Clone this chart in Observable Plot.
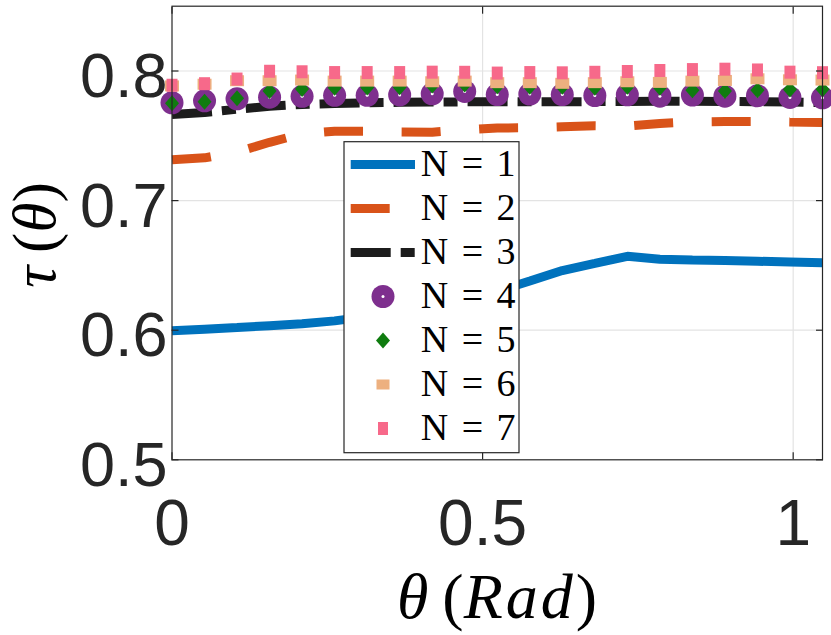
<!DOCTYPE html>
<html>
<head>
<meta charset="utf-8">
<script src="https://cdn.jsdelivr.net/npm/d3@7"></script>
<script src="https://cdn.jsdelivr.net/npm/@observablehq/plot@0.6"></script>
<style>
  html, body { margin: 0; padding: 0; background: #ffffff; }
  #chart { width: 831px; height: 635px; }
</style>
</head>
<body>
<div id="chart"></div>
<script>
// θ (rad) sample positions
const theta = [0, 0.0524, 0.1047, 0.1571, 0.2094, 0.2618, 0.3142, 0.3665, 0.4189, 0.4712,
  0.5236, 0.5760, 0.6283, 0.6807, 0.7330, 0.7854, 0.8378, 0.8901, 0.9425, 0.9948, 1.0472];

// τ(θ) for each N
const tauN1 = [0.5995, 0.6008, 0.6020, 0.6035, 0.6050, 0.6072, 0.6105, 0.6145, 0.6190, 0.6240,
  0.6300, 0.6380, 0.6460, 0.6515, 0.6570, 0.6548, 0.6542, 0.6537, 0.6532, 0.6527, 0.6520];
const tauN2 = [0.7315, 0.7330, 0.7375, 0.7450, 0.7515, 0.7535, 0.7535, 0.7530, 0.7528, 0.7545,
  0.7560, 0.7562, 0.7570, 0.7578, 0.7575, 0.7595, 0.7608, 0.7610, 0.7610, 0.7606, 0.7603];
const tauN3 = [0.7665, 0.7680, 0.7705, 0.7728, 0.7742, 0.7750, 0.7755, 0.7758, 0.7760, 0.7762,
  0.7763, 0.7763, 0.7763, 0.7764, 0.7765, 0.7766, 0.7766, 0.7765, 0.7763, 0.7760, 0.7756];
const tauN4 = [0.7755, 0.7770, 0.7785, 0.7798, 0.7805, 0.7812, 0.7812, 0.7815, 0.7824, 0.7842,
  0.7818, 0.7822, 0.7818, 0.7811, 0.7816, 0.7806, 0.7814, 0.7806, 0.7809, 0.7796, 0.7793];
const tauN5 = [0.7752, 0.7762, 0.7790, 0.7845, 0.7862, 0.7870, 0.7872, 0.7875, 0.7889, 0.7896,
  0.7883, 0.7878, 0.7878, 0.7870, 0.7878, 0.7870, 0.7852, 0.7846, 0.7852, 0.7857, 0.7860];
const tauN6 = [0.7885, 0.7898, 0.7925, 0.7925, 0.7930, 0.7922, 0.7922, 0.7922, 0.7917, 0.7922,
  0.7910, 0.7910, 0.7905, 0.7910, 0.7917, 0.7912, 0.7922, 0.7927, 0.7940, 0.7932, 0.7930];
const tauN7 = [0.7890, 0.7902, 0.7938, 0.7998, 0.7994, 0.7988, 0.7988, 0.7988, 0.7991, 0.7990,
  0.7984, 0.7988, 0.7986, 0.7990, 0.7996, 0.8004, 0.8011, 0.8014, 0.8008, 0.7991, 0.7987];

const seriesNames = ["N = 1", "N = 2", "N = 3", "N = 4", "N = 5", "N = 6", "N = 7"];
const xTicks = [0, 0.5, 1];
const yTicks = [0.5, 0.6, 0.7, 0.8];
const xGrid = [0.5, 1];
const yGrid = [0.6, 0.7, 0.8];

const colors = {
  n1: "#0072BD", n2: "#D95319", n3: "#1c1c1c", n4: "#7E2F8E",
  n5: "#0f7c0f", n6: "#EDB07F", n7: "#F7698A"
};
const dashN2 = "39,38.6";
const dashN3 = "40,10,14,10";

const mk = ys => theta.map((t, i) => ({theta: t, tau: ys[i]}));

const diamondSym = {draw(ctx) { ctx.moveTo(0, -8); ctx.lineTo(7, 0); ctx.lineTo(0, 8); ctx.lineTo(-7, 0); ctx.closePath(); }};
const peachSym = {draw(ctx) { ctx.rect(-7, -5.5, 14, 11); }};
const pinkSym = {draw(ctx) { ctx.rect(-5.5, -6.5, 11, 13); }};

const sansFont = "'Liberation Sans', Arial, Helvetica, sans-serif";
const serifFont = "'Liberation Serif', 'Times New Roman', serif";

const chart = Plot.plot({
  width: 831,
  height: 635,
  marginLeft: 171.5,
  marginRight: 9,
  marginTop: 5.7,
  marginBottom: 175.7,
  x: {domain: [0, Math.PI / 3]},
  y: {domain: [0.5, 0.85]},
  style: {background: "#ffffff", color: "#262626", fontFamily: sansFont},
  marks: [
    Plot.gridX(xGrid, {stroke: "#e3e3e3", strokeOpacity: 1, strokeWidth: 1.2}),
    Plot.gridY(yGrid, {stroke: "#e3e3e3", strokeOpacity: 1, strokeWidth: 1.2}),
    Plot.line(mk(tauN1), {x: "theta", y: "tau", stroke: colors.n1, strokeWidth: 9, strokeLinecap: "butt", strokeLinejoin: "miter"}),
    Plot.line(mk(tauN2), {x: "theta", y: "tau", stroke: colors.n2, strokeWidth: 9, strokeLinecap: "butt", strokeLinejoin: "miter", strokeDasharray: dashN2}),
    Plot.line(mk(tauN3), {x: "theta", y: "tau", stroke: colors.n3, strokeWidth: 9, strokeLinecap: "butt", strokeLinejoin: "miter", strokeDasharray: dashN3}),
    Plot.dot(mk(tauN4), {x: "theta", y: "tau", r: 11.5, fill: colors.n4, stroke: "none"}),
    Plot.dot(mk(tauN4), {x: "theta", y: "tau", r: 1.5, fill: "#ffffff", stroke: "none"}),
    Plot.dot(mk(tauN5), {x: "theta", y: "tau", symbol: diamondSym, r: 7, fill: colors.n5, stroke: "none"}),
    Plot.dot(mk(tauN6), {x: "theta", y: "tau", symbol: peachSym, r: 7, fill: colors.n6, stroke: "none"}),
    Plot.dot(mk(tauN7), {x: "theta", y: "tau", symbol: pinkSym, r: 7, fill: colors.n7, stroke: "none"}),
    Plot.frame({stroke: "#262626", strokeWidth: 1.2}),
    // inward tick marks on all four sides
    Plot.axisY({ticks: yTicks, anchor: "left", tickSize: -7, tickFormat: () => "", label: null, strokeWidth: 1.2}),
    Plot.axisY({ticks: yTicks, anchor: "right", tickSize: -7, tickFormat: () => "", label: null, strokeWidth: 1.2}),
    Plot.axisX({ticks: xTicks, anchor: "bottom", tickSize: -7, tickFormat: () => "", label: null, strokeWidth: 1.2}),
    Plot.axisX({ticks: xTicks, anchor: "top", tickSize: -7, tickFormat: () => "", label: null, strokeWidth: 1.2}),
    // tick labels
    Plot.axisY({ticks: yTicks, anchor: "left", tickSize: 0, tickPadding: 4.5, fontSize: 63, dy: 6, label: null, tickFormat: d => d.toFixed(1)}),
    Plot.axisX({ticks: xTicks, anchor: "bottom", tickSize: 0, tickPadding: 40, fontSize: 64, label: null, tickFormat: d => String(d)})
  ]
});

document.getElementById("chart").appendChild(chart);

const svg = d3.select(chart);

// Axis titles (LaTeX-like)
const xl = svg.append("text")
  .attr("x", 497).attr("y", 618)
  .attr("text-anchor", "middle")
  .attr("font-family", serifFont)
  .attr("font-size", 64)
  .attr("fill", "#000");
xl.append("tspan").attr("font-style", "italic").text("θ");
xl.append("tspan").attr("dx", 14).text("(");
xl.append("tspan").attr("font-style", "italic").attr("letter-spacing", 3).text("Rad");
xl.append("tspan").text(")");

const yl = svg.append("text")
  .attr("transform", "translate(55,235) rotate(-90)")
  .attr("text-anchor", "middle")
  .attr("font-family", serifFont)
  .attr("font-size", 61)
  .attr("fill", "#000");
yl.append("tspan").attr("font-style", "italic").text("τ");
yl.append("tspan").attr("dx", 13).text("(");
yl.append("tspan").attr("font-style", "italic").text("θ");
yl.append("tspan").text(")");

// Legend
const lg = svg.append("g").attr("text-anchor", "start");
lg.append("rect")
  .attr("x", 344).attr("y", 141.7).attr("width", 175).attr("height", 311)
  .attr("fill", "#ffffff").attr("stroke", "#262626").attr("stroke-width", 1.2);

const rowY = i => 164.5 + i * 44;
const sx1 = 350.7, sx2 = 415, mx = 383;

// line samples
[[colors.n1, null], [colors.n2, dashN2], [colors.n3, dashN3]].forEach(([c, dash], i) => {
  const l = lg.append("line")
    .attr("x1", sx1).attr("x2", sx2).attr("y1", rowY(i)).attr("y2", rowY(i))
    .attr("stroke", c).attr("stroke-width", 9).attr("stroke-linecap", "butt");
  if (dash) l.attr("stroke-dasharray", dash);
});
// marker samples
lg.append("circle").attr("cx", mx).attr("cy", rowY(3)).attr("r", 11.5).attr("fill", colors.n4);
lg.append("circle").attr("cx", mx).attr("cy", rowY(3)).attr("r", 1.5).attr("fill", "#fff");
lg.append("path").attr("transform", `translate(${mx},${rowY(4)})`)
  .attr("d", "M0,-8L7,0L0,8L-7,0Z").attr("fill", colors.n5);
lg.append("rect").attr("x", mx - 6.5).attr("y", rowY(5) - 5).attr("width", 13).attr("height", 10).attr("fill", colors.n6);
lg.append("rect").attr("x", mx - 5).attr("y", rowY(6) - 6.5).attr("width", 10).attr("height", 13).attr("fill", colors.n7);

seriesNames.forEach((s, i) => {
  lg.append("text")
    .attr("x", 420.7).attr("y", rowY(i) + 11.5)
    .attr("text-anchor", "start")
    .attr("font-family", serifFont)
    .attr("font-size", 38)
    .attr("word-spacing", 4)
    .attr("fill", "#000")
    .attr("xml:space", "preserve")
    .style("white-space", "pre")
    .text(s);
});
</script>
</body>
</html>
